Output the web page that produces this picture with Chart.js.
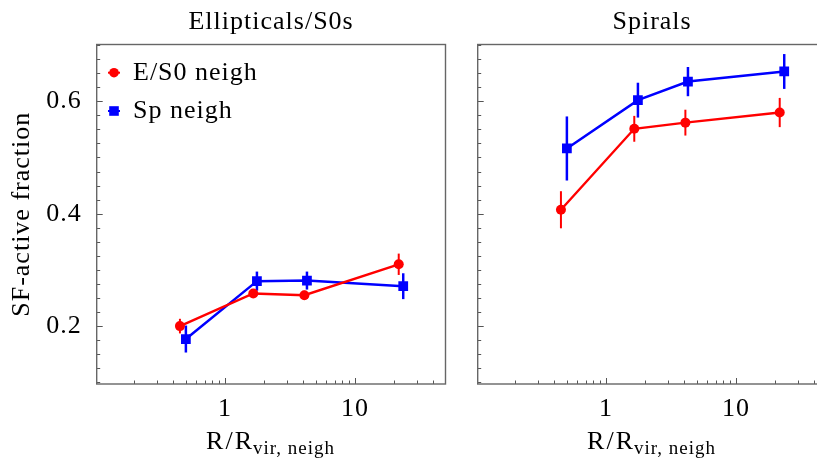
<!DOCTYPE html>
<html>
<head>
<meta charset="utf-8">
<script src="https://cdn.jsdelivr.net/npm/chart.js@4.4.1/dist/chart.umd.min.js"></script>
<style>
  html, body { margin: 0; padding: 0; background: #fff; overflow: hidden; }
  #wrap { position: relative; width: 817px; height: 461px; overflow: hidden; background: #fff; }
  .panel { position: absolute; top: 0; width: 460px; height: 461px; }
  #left { left: 0; }
  #right { left: 381px; }
</style>
</head>
<body>
<div id="wrap">
  <div class="panel" id="left"><canvas id="chart-left" width="460" height="461"></canvas></div>
  <div class="panel" id="right"><canvas id="chart-right" width="460" height="461"></canvas></div>
</div>
<script>
// radius in units of the neighbour's virial radius
const esRadius = [0.45, 1.65, 4.08, 21.7];
const spRadius = [0.50, 1.76, 4.27, 23.5];

// Ellipticals/S0s panel
const esFracLeft = [0.200, 0.258, 0.255, 0.310];
const esErrLeft  = [0.013, 0.008, 0.008, 0.019];
const spFracLeft = [0.177, 0.280, 0.281, 0.271];
const spErrLeft  = [0.024, 0.017, 0.016, 0.023];

// Spirals panel
const esFracRight = [0.407, 0.551, 0.562, 0.580];
const esErrRight  = [0.033, 0.023, 0.023, 0.026];
const spFracRight = [0.516, 0.602, 0.635, 0.653];
const spErrRight  = [0.057, 0.031, 0.026, 0.031];

const xTickValues = [1, 10];
const yTickValues = [0.2, 0.4, 0.6];
const xMinorTicks = [0.2, 0.3, 0.4, 0.5, 0.6, 0.7, 0.8, 0.9, 2, 3, 4, 5, 6, 7, 8, 9, 20, 30, 40];

const RED = 'rgb(255, 0, 0)';
const BLUE = 'rgb(0, 0, 255)';
const FONT = 'Liberation Serif';

function toPoints(xs, ys) {
  return xs.map((x, i) => ({ x: x, y: ys[i] }));
}

// frame, inward ticks and error bars
const framePlugin = {
  id: 'framePlugin',
  beforeDraw(chart) {
    // the reference font is a bit wider than Liberation Serif
    chart.ctx.letterSpacing = '1px';
  },
  beforeDatasetsDraw(chart) {
    const ctx = chart.ctx;
    const area = chart.chartArea;
    const xs = chart.scales.x;
    const ys = chart.scales.y;
    ctx.save();
    ctx.strokeStyle = '#555';
    ctx.lineWidth = 1;
    // ticks on bottom
    xMinorTicks.concat(xTickValues).forEach(v => {
      if (v < xs.min || v > xs.max) return;
      const px = Math.round(xs.getPixelForValue(v)) + 0.5;
      const len = xTickValues.includes(v) ? 6 : 3.5;
      ctx.beginPath();
      ctx.moveTo(px, area.bottom);
      ctx.lineTo(px, area.bottom - len);
      ctx.stroke();
    });
    // ticks on left
    for (let i = 4; i <= 28; i++) {
      const v = i * 0.025;
      if (v < ys.min || v > ys.max) continue;
      const py = Math.round(ys.getPixelForValue(v)) + 0.5;
      const major = i % 8 === 0;
      ctx.beginPath();
      ctx.moveTo(area.left, py);
      ctx.lineTo(area.left + (major ? 6 : 3.5), py);
      ctx.stroke();
    }
    ctx.strokeStyle = '#666';
    ctx.lineWidth = 1.4;
    ctx.strokeRect(area.left, area.top, area.right - area.left, area.bottom - area.top);

    // error bars
    chart.data.datasets.forEach(ds => {
      ctx.strokeStyle = ds.borderColor;
      ctx.lineWidth = ds.errWidth;
      ds.data.forEach((p, i) => {
        const px = xs.getPixelForValue(p.x);
        ctx.beginPath();
        ctx.moveTo(px, ys.getPixelForValue(p.y - ds.errors[i]));
        ctx.lineTo(px, ys.getPixelForValue(p.y + ds.errors[i]));
        ctx.stroke();
      });
    });
    ctx.restore();
  },
  afterDraw(chart) {
    const ctx = chart.ctx;
    const area = chart.chartArea;
    ctx.save();
    ctx.fillStyle = '#000';
    // x axis title with subscript
    const main = 'R/R';
    const sub = 'vir, neigh';
    ctx.letterSpacing = '2px';
    ctx.font = '26px "' + FONT + '"';
    const w1 = ctx.measureText(main).width;
    ctx.letterSpacing = '1px';
    ctx.font = '19px "' + FONT + '"';
    const w2 = ctx.measureText(sub).width;
    const x0 = (area.left + area.right) / 2 - (w1 + w2) / 2;
    ctx.textBaseline = 'alphabetic';
    ctx.textAlign = 'left';
    ctx.letterSpacing = '2px';
    ctx.font = '26px "' + FONT + '"';
    ctx.fillText(main, x0, 449);
    ctx.letterSpacing = '1px';
    ctx.font = '19px "' + FONT + '"';
    ctx.fillText(sub, x0 + w1 - 1, 454);

    // legend inside plot area
    if (chart.options.plugins.insideLegend) {
      chart.data.datasets.forEach((ds, i) => {
        const mx = area.left + 17.3;
        const my = area.top + 28.2 + i * 38.3;
        ctx.fillStyle = ds.borderColor;
        ctx.strokeStyle = ds.borderColor;
        ctx.lineWidth = 2;
        ctx.beginPath();
        ctx.moveTo(mx - 6, my);
        ctx.lineTo(mx + 6, my);
        ctx.stroke();
        if (ds.pointStyle === 'rect') {
          ctx.fillRect(mx - 4.8, my - 4.8, 9.6, 9.6);
        } else {
          ctx.beginPath();
          ctx.arc(mx, my, 4.8, 0, Math.PI * 2);
          ctx.fill();
        }
        ctx.fillStyle = '#000';
        ctx.font = '26px "' + FONT + '"';
        ctx.fillText(ds.label, area.left + 36.3, my + 7.2);
      });
    }
    ctx.restore();
  }
};

function makeChart(canvasId, title, esFrac, esErr, spFrac, spErr, isLeft) {
  const ctx = document.getElementById(canvasId).getContext('2d');
  return new Chart(ctx, {
    type: 'scatter',
    data: {
      datasets: [{
        label: 'E/S0 neigh',
        data: toPoints(esRadius, esFrac),
        errors: esErr,
        errWidth: 2,
        showLine: true,
        borderColor: RED,
        backgroundColor: RED,
        borderWidth: 2.4,
        pointStyle: 'circle',
        pointRadius: 5,
        pointBorderWidth: 0
      }, {
        label: 'Sp neigh',
        data: toPoints(spRadius, spFrac),
        errors: spErr,
        errWidth: 2.5,
        showLine: true,
        borderColor: BLUE,
        backgroundColor: BLUE,
        borderWidth: 2.5,
        pointStyle: 'rect',
        pointRadius: 6.9,
        pointBorderWidth: 0
      }]
    },
    options: {
      responsive: false,
      animation: false,
      layout: { padding: { left: 0, right: 14.5, top: 0, bottom: 0 } },
      scales: {
        x: {
          type: 'logarithmic',
          min: 0.103,
          max: 49.7,
          grid: { display: false, drawTicks: false },
          border: { display: false },
          afterBuildTicks: scale => { scale.ticks = xTickValues.map(v => ({ value: v })); },
          afterFit: scale => { scale.height = 77; },
          ticks: {
            padding: 10,
            color: '#000',
            font: { family: FONT, size: 26 },
            callback: v => String(v)
          }
        },
        y: {
          min: 0.097,
          max: 0.701,
          grid: { display: false, drawTicks: false },
          border: { display: false },
          afterBuildTicks: scale => { scale.ticks = yTickValues.map(v => ({ value: v })); },
          afterFit: scale => { scale.width = 96.7; },
          title: {
            display: isLeft,
            text: 'SF-active fraction',
            color: '#000',
            font: { family: FONT, size: 26 },
            padding: { top: 7, bottom: 0 }
          },
          ticks: {
            display: isLeft,
            padding: 15,
            color: '#000',
            font: { family: FONT, size: 26 },
            callback: v => v.toFixed(1)
          }
        }
      },
      plugins: {
        legend: { display: false },
        tooltip: { enabled: false },
        insideLegend: isLeft,
        title: {
          display: true,
          text: title,
          fullSize: false,
          color: '#000',
          font: { family: FONT, size: 26, weight: 'normal' },
          padding: { top: 7, bottom: 6.3 }
        }
      }
    },
    plugins: [framePlugin]
  });
}

makeChart('chart-left', 'Ellipticals/S0s', esFracLeft, esErrLeft, spFracLeft, spErrLeft, true);
makeChart('chart-right', 'Spirals', esFracRight, esErrRight, spFracRight, spErrRight, false);
</script>
</body>
</html>
